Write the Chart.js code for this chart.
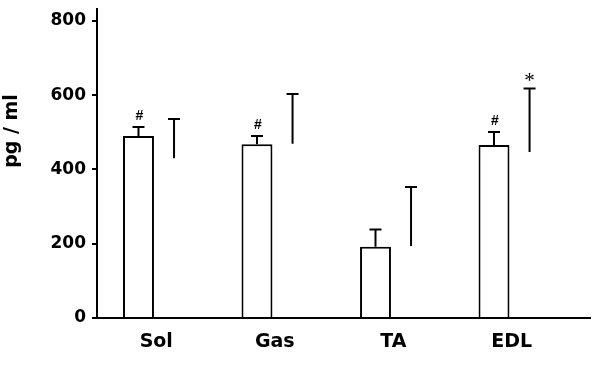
<!DOCTYPE html>
<html>
<head>
<meta charset="utf-8">
<script src="https://cdn.jsdelivr.net/npm/chart.js@4"></script>
<style>
  html, body { margin: 0; padding: 0; background: #fff; }
  #wrap { width: 593px; height: 365px; }
</style>
</head>
<body>
<div id="wrap"><canvas id="chart"></canvas></div>
<script>
const categories = ['Sol', 'Gas', 'TA', 'EDL'];
const seriesA = [490, 468, 192, 466];
const seriesAErr = [24, 22, 46, 35];
const seriesB = [430, 469, 194, 447];
const seriesBErr = [106, 134, 159, 171];
const seriesAMarks = ['#', '#', '', '#'];
const seriesBMarks = ['', '', '', '*'];
const yTicks = [0, 200, 400, 600, 800];

const FONT = '"DejaVu Sans", Verdana, sans-serif';
const toPoints = (vals) => vals.map((v, i) => ({ x: i, y: v }));

// error bars + significance marks + y title
const errorBars = {
  id: 'errorBars',
  afterDatasetsDraw(chart) {
    const { ctx } = chart;
    const yScale = chart.scales.y;
    const errs = [seriesAErr, seriesBErr];
    const marks = [seriesAMarks, seriesBMarks];
    ctx.save();
    ctx.strokeStyle = '#000';
    ctx.fillStyle = '#000';
    ctx.lineWidth = 2;
    chart.data.datasets.forEach((ds, d) => {
      const meta = chart.getDatasetMeta(d);
      meta.data.forEach((bar, i) => {
        const topVal = ds.data[i].y + errs[d][i];
        const yTop = yScale.getPixelForValue(topVal);
        const x = bar.x;
        ctx.beginPath();
        ctx.moveTo(x, bar.y);
        ctx.lineTo(x, yTop);
        ctx.moveTo(x - 6, yTop);
        ctx.lineTo(x + 6, yTop);
        ctx.stroke();
        const m = marks[d][i];
        ctx.textAlign = 'center';
        ctx.textBaseline = 'alphabetic';
        if (m === '#') {
          ctx.font = 'bold 14px "Liberation Sans", Arial, sans-serif';
          ctx.fillText(m, x + 1, yTop - 7);
        } else if (m === '*') {
          ctx.font = '21px "Liberation Serif", "Times New Roman", serif';
          ctx.fillText(m, x, yTop - 1);
        }
      });
    });
    ctx.translate(12, 131);
    ctx.rotate(-Math.PI / 2);
    ctx.font = 'bold 19px ' + FONT;
    ctx.textAlign = 'center';
    ctx.textBaseline = 'middle';
    ctx.fillText('pg / ml', 0, 0);
    ctx.restore();
  }
};

const ctx = document.getElementById('chart').getContext('2d');
const chart = new Chart(ctx, {
  type: 'bar',
  data: {
    datasets: [
      {
        label: 'A',
        data: toPoints(seriesA),
        backgroundColor: '#fff',
        borderColor: '#000',
        borderWidth: 2,
        borderSkipped: 'bottom',
        barPercentage: 0.87,
        categoryPercentage: 0.6
      },
      {
        label: 'B',
        data: toPoints(seriesB),
        backgroundColor: 'rgba(0,0,0,0)',
        borderWidth: 0,
        barPercentage: 0.87,
        categoryPercentage: 0.6
      }
    ]
  },
  options: {
    responsive: true,
    maintainAspectRatio: false,
    animation: false,
    layout: { padding: { top: 9, right: 3, left: 0, bottom: 0 } },
    plugins: {
      legend: { display: false },
      tooltip: { enabled: false }
    },
    scales: {
      x: {
        type: 'linear',
        offset: false,
        min: -0.5,
        max: 3.66,
        afterBuildTicks: (s) => { s.ticks = categories.map((c, i) => ({ value: i })); },
        afterFit: (s) => { s.height = 47; s.paddingLeft = 0; s.paddingRight = 0; },
        grid: { display: false, drawTicks: false, offset: false },
        border: { color: '#000', width: 2 },
        ticks: {
          padding: 13,
          color: '#000',
          maxRotation: 0,
          autoSkip: false,
          font: { family: FONT, size: 19, weight: 'bold' },
          callback: (v) => categories[v] ?? ''
        }
      },
      y: {
        min: 0,
        max: 832,
        afterBuildTicks: (s) => { s.ticks = yTicks.map(v => ({ value: v })); },
        afterFit: (s) => { s.width = 97; s.paddingTop = 0; s.paddingBottom = 0; },
        grid: { drawOnChartArea: false, drawTicks: true, tickLength: 5, color: '#000', lineWidth: 2 },
        border: { color: '#000', width: 2 },
        ticks: {
          padding: 6,
          color: '#000',
          font: { family: FONT, size: 17, weight: 'bold' }
        }
      }
    }
  },
  plugins: [errorBars]
});
</script>
</body>
</html>
